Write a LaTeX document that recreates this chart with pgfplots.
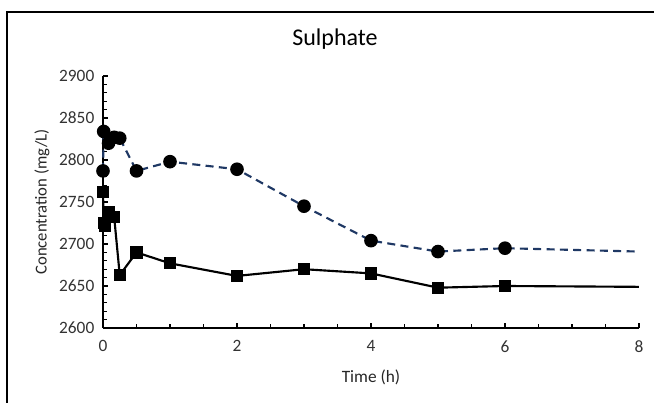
\documentclass[border=0pt]{standalone}
\usepackage{pgfplots}
\pgfplotsset{compat=1.18}
\usepackage{fontspec}
\setmainfont{Carlito}
\definecolor{navy}{RGB}{31,56,100}

\begin{document}
\begin{tikzpicture}
% picture box in pixel units (1px = 0.75pt)
\useasboundingbox (-77.25pt,-56.25pt) rectangle (413.25pt,246pt);
\draw[line width=1.1pt] (-72pt,-70pt) -- (-72pt,237pt) -- (430pt,237pt);
\begin{axis}[
    at={(0,0)}, anchor=south west,
    scale only axis,
    width=402pt, height=189pt,
    xmin=0, xmax=8,
    ymin=2600, ymax=2900,
    xtick={0,2,4,6,8},
    minor xtick={0.5,1,...,7.5},
    ytick={2600,2650,...,2900},
    minor y tick num=4,
    axis lines=left,
    axis line style={line width=1.1pt, -},
    tick align=inside,
    tick style={black, line width=0.8pt},
    major tick length=4pt,
    minor tick length=3pt,
    /pgf/number format/assume math mode=true,
    /pgf/number format/1000 sep={},
    tick label style={font=\fontsize{13}{15}\selectfont, text=black!80},
    xticklabel style={yshift=-6pt},
    yticklabel style={xshift=-3pt},
    title={Sulphate},
    title style={at={(axis description cs:0.4328,1.115)}, anchor=center, font=\fontsize{18}{20}\selectfont},
    xlabel={Time (h)},
    xlabel style={at={(axis description cs:0.5,-0.1944)}, anchor=center, font=\fontsize{13}{15}\selectfont, text=black!85},
    ylabel={Concentration (mg/L)},
    ylabel style={at={(axis description cs:-0.1138,0.5)}, anchor=center, font=\fontsize{12.5}{14}\selectfont, text=black!85},
    clip=false,
]
% dashed series (circles)
\addplot[navy, line width=1.6pt, dash pattern=on 6pt off 4pt,
    mark=*, mark size=4.3pt, mark options={solid, fill=black, draw=black},
    mark indices={1,2,3,4,5,6,7,8,9,10,11,12}]
coordinates {
    (0,2787) (0.01,2834) (0.083,2820) (0.167,2827) (0.25,2826)
    (0.5,2787) (1,2798) (2,2789) (3,2745) (4,2704) (5,2691) (6,2695) (8,2691)
};
% solid series (squares)
\addplot[black, line width=1.6pt,
    mark=square*, mark size=3.8pt, mark options={fill=black},
    mark indices={1,2,3,4,5,6,7,8,9,10,11,12,13}]
coordinates {
    (0,2762) (0.01,2725) (0.03,2722) (0.083,2738) (0.167,2732) (0.25,2663)
    (0.5,2690) (1,2677) (2,2662) (3,2670) (4,2665) (5,2648) (6,2650) (8,2649)
};
\end{axis}
\end{tikzpicture}
\end{document}
